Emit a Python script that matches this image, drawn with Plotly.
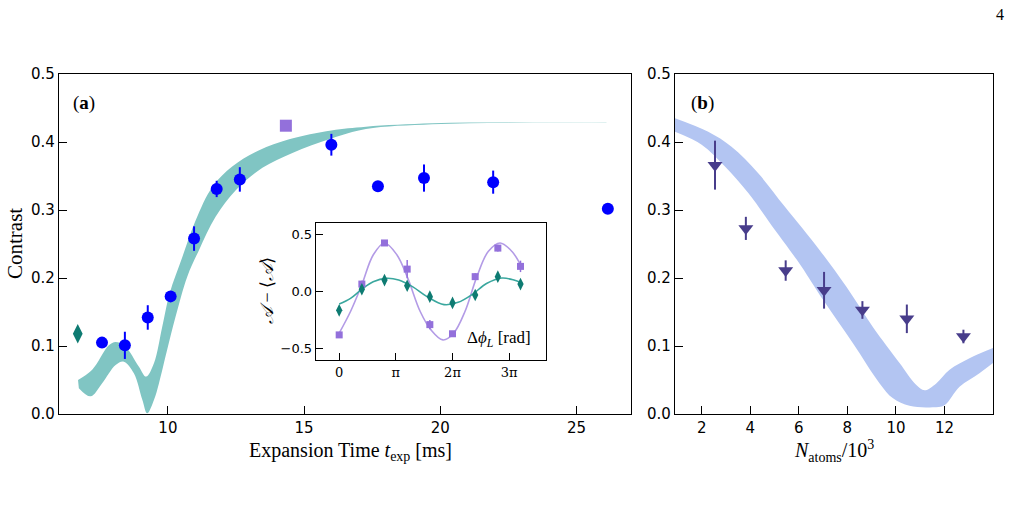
import plotly.graph_objects as go

# ---------------- Panel (a) data ----------------
a_blue_x = [7.58, 8.42, 9.26, 10.10, 10.96, 11.79, 12.64, 16.0, 17.71, 19.40, 21.94, 26.15]
a_blue_y = [0.105, 0.101, 0.142, 0.173, 0.258, 0.331, 0.345, 0.396, 0.335, 0.347, 0.341, 0.302]
a_blue_err = [0.004, 0.02, 0.018, 0.008, 0.018, 0.012, 0.018, 0.016, 0.004, 0.02, 0.017, 0.006]
a_diamond_x = [6.69]
a_diamond_y = [0.118]
a_square_x = [14.33]
a_square_y = [0.424]

a_band_up_x = [6.70, 7.22, 7.83, 8.08, 8.44, 8.93, 9.20, 9.49, 9.79, 10.06, 10.53, 11.02, 11.63,
               12.36, 13.35, 14.45, 16.0, 17.27, 19.7, 22.5, 26.1]
a_band_up_y = [0.050, 0.065, 0.101, 0.106, 0.099, 0.070, 0.055, 0.075, 0.128, 0.177, 0.231, 0.285,
               0.334, 0.364, 0.388, 0.404, 0.417, 0.4225, 0.4275, 0.429, 0.4295]
a_band_lo_x = [6.73, 7.16, 7.58, 8.08, 8.38, 8.75, 9.06, 9.24, 9.49, 9.67, 9.97, 10.28, 10.71,
               11.14, 11.75, 12.49, 13.47, 14.57, 16.0, 17.27, 19.7, 22.5, 26.1]
a_band_lo_y = [0.038, 0.026, 0.045, 0.072, 0.077, 0.060, 0.021, 0.001, 0.021, 0.045, 0.094, 0.143,
               0.202, 0.241, 0.290, 0.329, 0.362, 0.384, 0.405, 0.419, 0.426, 0.4285, 0.429]

# ---------------- Inset data (phase in units of pi) ----------------
in_x = [0, 0.4, 0.8, 1.2, 1.6, 2.0, 2.4, 2.8, 3.2]
in_purple_y = [-0.38, 0.065, 0.425, 0.196, -0.29, -0.37, 0.13, 0.38, 0.22]
in_purple_err = [0.02, 0.03, 0.015, 0.08, 0.04, 0.02, 0.03, 0.03, 0.05]
in_teal_y = [-0.165, 0.02, 0.10, 0.05, -0.045, -0.10, -0.03, 0.13, 0.065]
in_teal_err = [0.03, 0.02, 0.03, 0.025, 0.02, 0.025, 0.03, 0.03, 0.02]

fit_purple_x = [0, 0.2, 0.4, 0.6, 0.8, 1.02, 1.21, 1.43, 1.62, 1.83, 2.02, 2.22, 2.43, 2.63, 2.84, 3.05, 3.23]
fit_purple_y = [-0.365, -0.175, 0.06, 0.32, 0.425, 0.32, 0.117, -0.175, -0.336, -0.424, -0.365,
                -0.175, 0.13, 0.35, 0.425, 0.35, 0.205]
fit_teal_x = [0, 0.2, 0.4, 0.6, 0.83, 1.05, 1.3, 1.55, 1.85, 2.1, 2.35, 2.6, 2.87, 3.05, 3.23]
fit_teal_y = [-0.11, -0.06, 0.02, 0.085, 0.115, 0.10, 0.04, -0.045, -0.115, -0.095, -0.025,
              0.07, 0.118, 0.105, 0.075]

# ---------------- Panel (b) data ----------------
b_x = [2.55, 3.82, 5.46, 7.04, 8.62, 10.45, 12.78]
b_y = [0.366, 0.273, 0.211, 0.182, 0.153, 0.140, 0.114]
b_err = [0.036, 0.017, 0.015, 0.027, 0.013, 0.021, 0.01]

b_band_up_x = [0.9, 2.27, 3.23, 4.33, 5.42, 6.86, 7.96, 9.05, 10.15, 10.83, 11.18, 11.66, 12.21, 13.03, 14.0]
b_band_up_y = [0.435, 0.415, 0.393, 0.354, 0.305, 0.241, 0.187, 0.128, 0.075, 0.043, 0.035, 0.045,
               0.065, 0.082, 0.097]
b_band_lo_x = [0.9, 2.0, 2.96, 3.92, 5.01, 5.63, 6.11, 7.0, 8.23, 9.33, 9.88, 10.56, 11.52, 12.0,
               12.62, 13.44, 14.0]
b_band_lo_y = [0.415, 0.396, 0.364, 0.325, 0.271, 0.241, 0.217, 0.168, 0.104, 0.045, 0.023, 0.012,
               0.010, 0.013, 0.040, 0.060, 0.075]

a_yticks = [0.0, 0.1, 0.2, 0.3, 0.4, 0.5]
a_xticks = [10, 15, 20, 25]
b_xticks = [2, 4, 6, 8, 10, 12]
in_xticks = [0, 1, 2, 3]
in_xticklabels = ["0", "π", "2π", "3π"]
in_yticks = [-0.5, 0.0, 0.5]
in_yticklabels = ["−0.5", "0.0", "0.5"]

TEAL_BAND = "#80c5c3"
BLUE_BAND = "#b3c5f2"
BLUE = "#0000ff"
TEAL_DARK = "#0e7b72"
PURPLE = "#9370db"
PURPLE_LIGHT = "#b39be6"
TEAL_LINE = "#3aa79e"
SLATE = "#483d8b"

fig = go.Figure()

# Panel a band
fig.add_trace(go.Scatter(x=a_band_lo_x, y=a_band_lo_y, mode="lines", line=dict(width=0, shape="spline", color=TEAL_BAND),
                         xaxis="x", yaxis="y", showlegend=False, hoverinfo="skip"))
fig.add_trace(go.Scatter(x=a_band_up_x, y=a_band_up_y, mode="lines", line=dict(width=0, shape="spline", color=TEAL_BAND),
                         fill="tonexty", fillcolor=TEAL_BAND, xaxis="x", yaxis="y", showlegend=False, hoverinfo="skip"))
# Panel a points
fig.add_trace(go.Scatter(x=a_blue_x, y=a_blue_y, mode="markers",
                         marker=dict(symbol="circle", size=12, color=BLUE),
                         error_y=dict(type="data", array=a_blue_err, color=BLUE, thickness=2, width=0),
                         xaxis="x", yaxis="y", showlegend=False))
fig.add_trace(go.Scatter(x=a_diamond_x, y=a_diamond_y, mode="markers",
                         marker=dict(symbol="diamond-tall", size=14, color=TEAL_DARK),
                         xaxis="x", yaxis="y", showlegend=False))
fig.add_trace(go.Scatter(x=a_square_x, y=a_square_y, mode="markers",
                         marker=dict(symbol="square", size=12, color=PURPLE),
                         xaxis="x", yaxis="y", showlegend=False))

# Inset
fig.add_trace(go.Scatter(x=fit_purple_x, y=fit_purple_y, mode="lines", line=dict(color=PURPLE_LIGHT, width=1.6, shape="spline"),
                         xaxis="x3", yaxis="y3", showlegend=False))
fig.add_trace(go.Scatter(x=fit_teal_x, y=fit_teal_y, mode="lines", line=dict(color=TEAL_LINE, width=1.6, shape="spline"),
                         xaxis="x3", yaxis="y3", showlegend=False))
fig.add_trace(go.Scatter(x=in_x, y=in_purple_y, mode="markers",
                         marker=dict(symbol="square", size=7, color=PURPLE),
                         error_y=dict(type="data", array=in_purple_err, color=PURPLE, thickness=1.5, width=0),
                         xaxis="x3", yaxis="y3", showlegend=False))
fig.add_trace(go.Scatter(x=in_x, y=in_teal_y, mode="markers",
                         marker=dict(symbol="diamond-tall", size=9, color=TEAL_DARK),
                         error_y=dict(type="data", array=in_teal_err, color=TEAL_DARK, thickness=1.5, width=0),
                         xaxis="x3", yaxis="y3", showlegend=False))

# Panel b band
fig.add_trace(go.Scatter(x=b_band_lo_x, y=b_band_lo_y, mode="lines", line=dict(width=0, shape="spline", color=BLUE_BAND),
                         xaxis="x2", yaxis="y2", showlegend=False, hoverinfo="skip"))
fig.add_trace(go.Scatter(x=b_band_up_x, y=b_band_up_y, mode="lines", line=dict(width=0, shape="spline", color=BLUE_BAND),
                         fill="tonexty", fillcolor=BLUE_BAND, xaxis="x2", yaxis="y2", showlegend=False, hoverinfo="skip"))
fig.add_trace(go.Scatter(x=b_x, y=b_y, mode="markers",
                         marker=dict(symbol="triangle-down", size=13, color=SLATE),
                         error_y=dict(type="data", array=b_err, color=SLATE, thickness=2, width=0),
                         xaxis="x2", yaxis="y2", showlegend=False))

tickfont = dict(family="DejaVu Sans", size=15, color="black")
axis_common = dict(showline=True, mirror=True, linecolor="black", linewidth=1.4, ticks="inside", ticklen=8,
                   tickwidth=1.4, tickcolor="black", showgrid=False, zeroline=False, tickfont=tickfont,
                   automargin=False)

fig.update_layout(
    template="none",
    width=1013, height=507, margin=dict(l=0, r=0, t=0, b=0, pad=0, autoexpand=False),
    paper_bgcolor="white", plot_bgcolor="white",
    xaxis=dict(domain=[0.0582, 0.6229], range=[6, 27], tickvals=a_xticks, anchor="y", **axis_common),
    yaxis=dict(domain=[0.1834, 0.854], range=[0, 0.5], tickvals=a_yticks, tickformat=".1f", anchor="x", **axis_common),
    xaxis2=dict(domain=[0.6663, 0.9803], range=[0.9, 14], tickvals=b_xticks, anchor="y2", **axis_common),
    yaxis2=dict(domain=[0.1834, 0.854], range=[0, 0.5], tickvals=a_yticks, tickformat=".1f", anchor="x2", **axis_common),
    xaxis3=dict(domain=[0.3119, 0.539], range=[-0.41, 3.65], tickvals=in_xticks, ticktext=in_xticklabels, anchor="y3",
                **{**axis_common, "tickfont": dict(family="DejaVu Serif", size=13, color="black"), "ticklen": 7}),
    yaxis3=dict(domain=[0.2899, 0.5602], range=[-0.6, 0.6], tickvals=in_yticks, ticktext=in_yticklabels, anchor="x3",
                **{**axis_common, "tickfont": dict(family="DejaVu Sans", size=13, color="black"), "ticklen": 7}),
)

serif = "Liberation Serif"
ann = [
    dict(text="Expansion Time <i>t</i><sub>exp</sub> [ms]", x=350, y=451, font=dict(family=serif, size=20)),
    dict(text="<i>N</i><sub>atoms</sub>/10<sup>3</sup>", x=834, y=451, font=dict(family=serif, size=20)),
    dict(text="Contrast", x=15, y=244, textangle=-90, font=dict(family=serif, size=21)),
    dict(text="(<b>a</b>)", x=84, y=103, font=dict(family=serif, size=19)),
    dict(text="(<b>b</b>)", x=702, y=103, font=dict(family=serif, size=19)),
    dict(text="4", x=1000, y=14, font=dict(family=serif, size=16)),
    dict(text="<i>𝒜</i> − ⟨<i>𝒜</i>⟩", x=267, y=291, textangle=-90, font=dict(family=serif, size=18)),
    dict(text="Δ<i>ϕ</i><sub><i>L</i></sub> [rad]", x=499, y=339, font=dict(family=serif, size=17)),
]
for a in ann:
    fig.add_annotation(xref="paper", yref="paper", x=a["x"] / 1013, y=1 - a["y"] / 507, text=a["text"],
                       showarrow=False, xanchor="center", yanchor="middle", textangle=a.get("textangle", 0),
                       font=dict(color="black", **a["font"]))

fig.write_html("out.html")
